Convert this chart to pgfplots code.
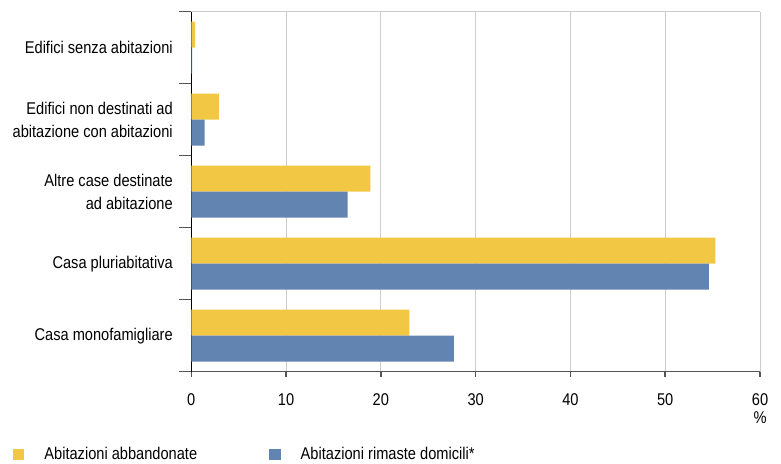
\documentclass[border=0pt]{standalone}
\usepackage{pgfplots}
\pgfplotsset{compat=1.18}
\usepackage{fontspec}
\setmainfont{Liberation Sans}[FakeStretch=0.86]
\definecolor{giallo}{HTML}{F2C744}
\definecolor{blu}{HTML}{6284B0}
\definecolor{griglia}{HTML}{CCCCCC}
\definecolor{asse}{HTML}{555555}
\newcommand{\fnt}{\fontsize{17bp}{22.7bp}\selectfont}
% square legend swatch
\pgfplotsset{sq legend/.style={legend image code/.code={%
  \fill[##1] (0bp,-5.5bp) rectangle (11.5bp,5.5bp);}}}

\begin{document}
\begin{tikzpicture}
\useasboundingbox (0,0) rectangle (781bp,464bp);
\begin{axis}[
  at={(191.3bp,92.3bp)}, anchor=south west,
  scale only axis, width=568.7bp, height=360bp,
  clip=false,
  xbar,
  xmin=0, xmax=60, ymin=-0.5, ymax=4.5,
  xtick={0,10,...,60},
  ytick={0,...,4},
  yticklabels={Casa monofamigliare, Casa pluriabitativa,
    {Altre case destinate\\ad abitazione},
    {Edifici non destinati ad\\abitazione con abitazioni},
    Edifici senza abitazioni},
  minor ytick={-0.5,0.5,...,4.5},
  axis x line*=bottom, axis y line*=left,
  axis line style={-},
  x axis line style={asse, line width=1.5bp},
  y axis line style={black, line width=0.9bp},
  tick align=outside,
  major tick length=5bp, minor tick length=12bp,
  every major y tick/.append style={draw=none},
  every minor y tick/.append style={asse, line width=1.3bp},
  every major x tick/.append style={asse, line width=1.5bp},
  xmajorgrids, grid style={griglia, line width=1bp},
  /pgf/number format/assume math mode=true,
  tick label style={font=\fnt},
  yticklabel style={align=right, xshift=-10bp},
  xticklabel style={anchor=north, yshift=-13bp},
  legend columns=2,
  legend style={at={(rel axis cs:0,0)}, anchor=west, xshift=-178.6bp, yshift=-82.8bp,
    draw=none, fill=none, font=\fnt, inner sep=0pt,
    nodes={inner sep=0pt},
    /tikz/every odd column/.append style={column sep=20bp},
    /tikz/every even column/.append style={column sep=72bp}},
]
\addplot[fill=giallo, draw=none, bar width=26bp, bar shift=13bp, sq legend]
  coordinates {(23.0,0) (55.3,1) (18.9,2) (2.9,3) (0.4,4)};
\addplot[fill=blu, draw=none, bar width=26bp, bar shift=-13bp, sq legend]
  coordinates {(27.7,0) (54.6,1) (16.5,2) (1.4,3) (0.1,4)};
\legend{Abitazioni abbandonate, Abitazioni rimaste domicili*}
\draw[griglia, line width=1bp] (axis cs:0,4.5) -- (axis cs:60,4.5);
\node[font=\fnt] at (axis cs:60,-0.5) [yshift=-46.3bp] {\%};
\end{axis}
\end{tikzpicture}
\end{document}
